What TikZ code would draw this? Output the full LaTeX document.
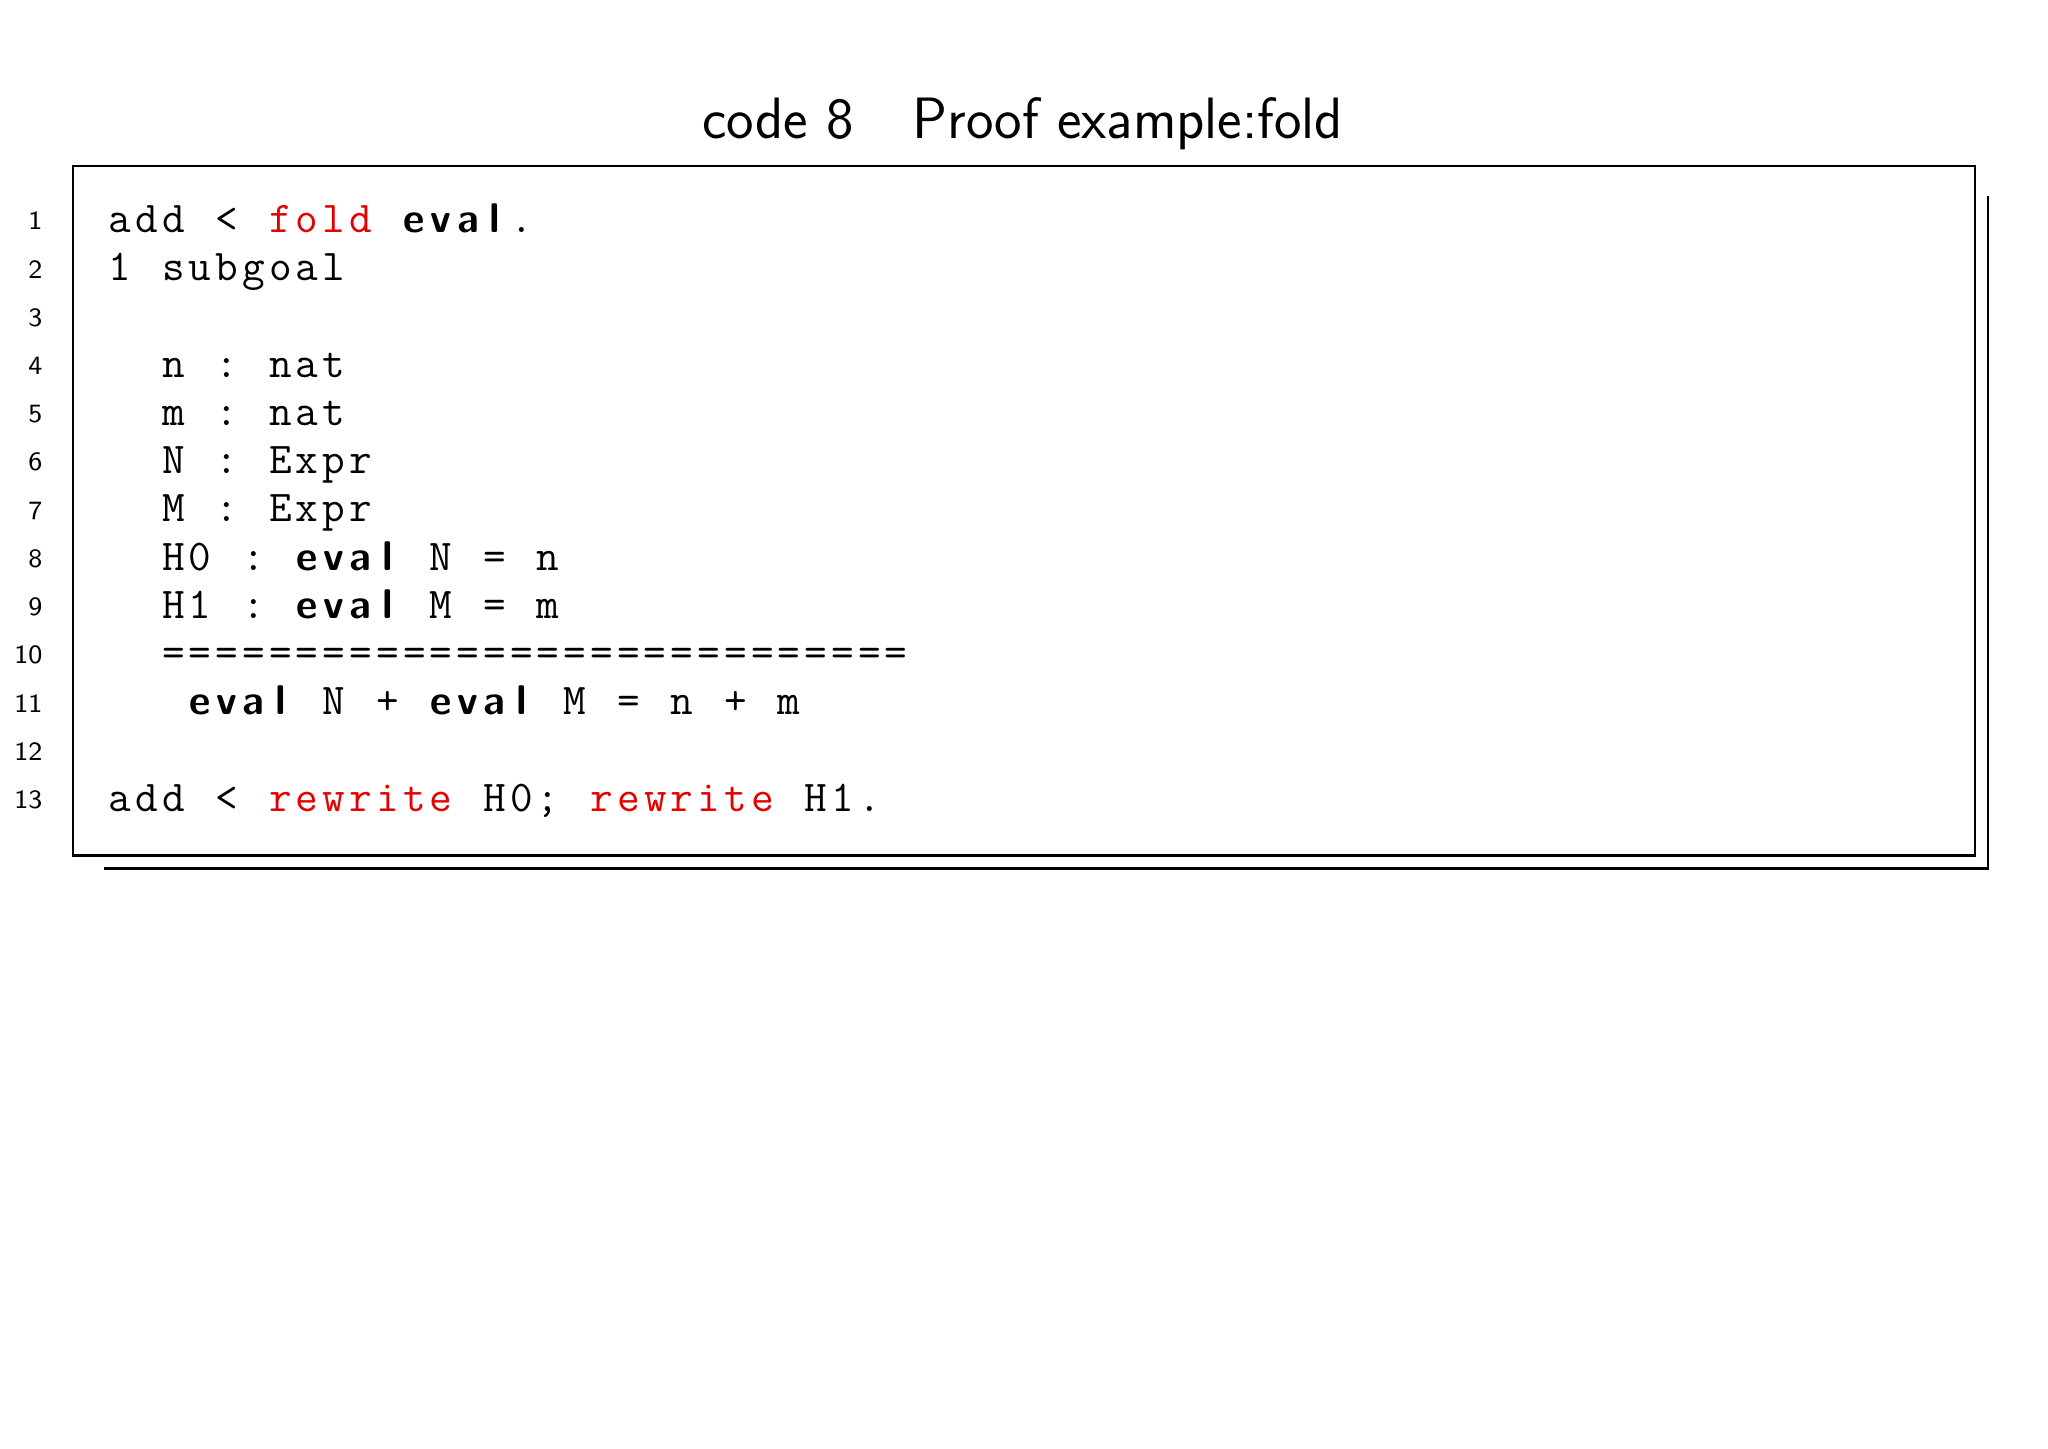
\documentclass[tikz,border=0pt]{standalone}
\makeatletter
\newlength\cwid \setlength\cwid{0.2677cm}
\newcommand\spc[1]{\@tfor\ch:=#1\do{\makebox[\cwid][c]{\ch}}}
\makeatother
\tikzset{code/.style={anchor=base west,inner sep=0pt,font=\fontsize{12.5}{14}\ttfamily},
 kw/.style={code,font=\fontsize{11.8}{14}\sffamily\bfseries},
 rd/.style={code,text=red!90!black},
 num/.style={anchor=base east,inner sep=0pt,font=\fontsize{7.5}{9}\sffamily}}
\begin{document}
\begin{tikzpicture}[x=0.01306cm,y=-0.01306cm]
\useasboundingbox (0,0) rectangle (1568,1108.7);
\node[font=\fontsize{16.6}{19}\sffamily] (title) at (783,95) {code 8\quad Proof example:fold};
\draw[line width=0.7pt] (56,127) rectangle (1512,655);
\draw[line width=0.7pt] (80,665) -- (1522,665) -- (1522,150);
\foreach \k in {1,...,13}{\node[num] (n\k) at (33,{176+36.92*(\k-1)}) {\k};}
\newcommand\W[4][code]{\node[#1] at ({81+20.5*#2},{178+36.92*(#3-1)}) {\spc{#4}};}
\W{0}{1}{add}\W{4}{1}{<}\W[rd]{6}{1}{fold}\W[kw]{11}{1}{eval}\W{15}{1}{.}
\W{0}{2}{1}\W{2}{2}{subgoal}
\W{2}{4}{n}\W{4}{4}{:}\W{6}{4}{nat}
\W{2}{5}{m}\W{4}{5}{:}\W{6}{5}{nat}
\W{2}{6}{N}\W{4}{6}{:}\W{6}{6}{Expr}
\W{2}{7}{M}\W{4}{7}{:}\W{6}{7}{Expr}
\W{2}{8}{H0}\W{5}{8}{:}\W[kw]{7}{8}{eval}\W{12}{8}{N}\W{14}{8}{=}\W{16}{8}{n}
\W{2}{9}{H1}\W{5}{9}{:}\W[kw]{7}{9}{eval}\W{12}{9}{M}\W{14}{9}{=}\W{16}{9}{m}
\W{2}{10}{============================}
\W[kw]{3}{11}{eval}\W{8}{11}{N}\W{10}{11}{+}\W[kw]{12}{11}{eval}\W{17}{11}{M}\W{19}{11}{=}\W{21}{11}{n}\W{23}{11}{+}\W{25}{11}{m}
\W{0}{13}{add}\W{4}{13}{<}\W[rd]{6}{13}{rewrite}\W{14}{13}{H0;}\W[rd]{18}{13}{rewrite}\W{26}{13}{H1.}
\end{tikzpicture}
\end{document}
